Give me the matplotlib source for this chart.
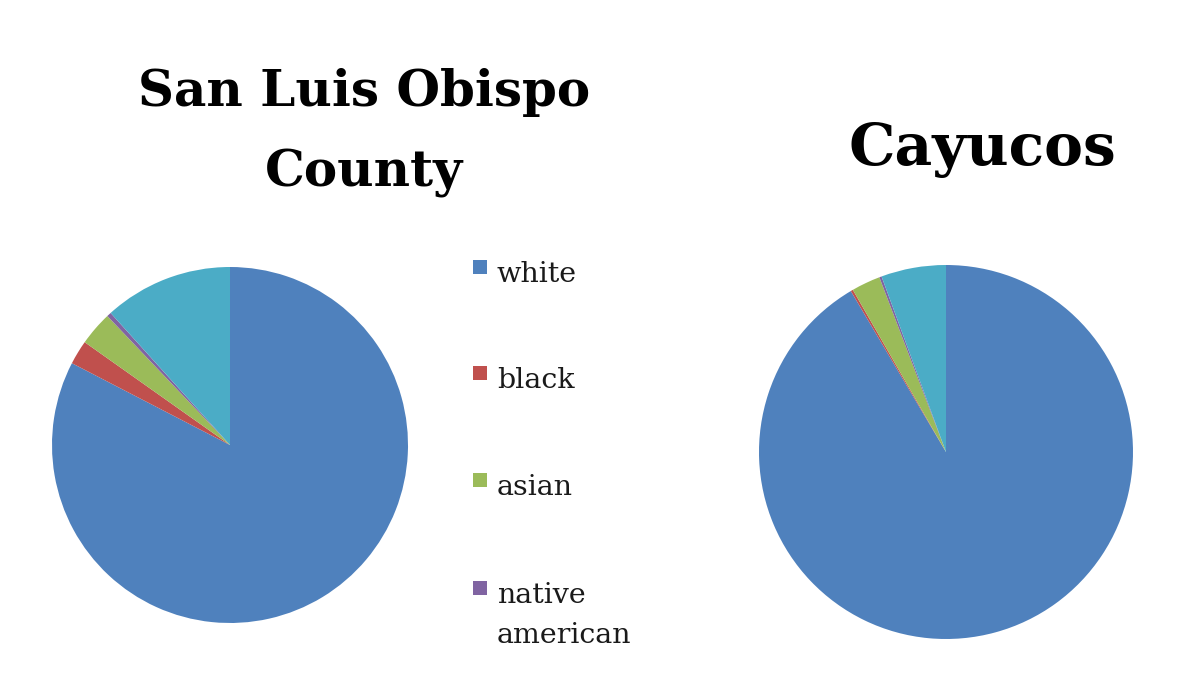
import matplotlib
matplotlib.use("Agg")
import matplotlib.pyplot as plt
from matplotlib.patches import Rectangle

# race share (%), clockwise from 12 o'clock; last slice is "other" (not in legend)
categories = ["white", "black", "asian", "native\namerican", "other"]
slo_county = [82.6, 2.2, 3.1, 0.4, 11.7]
cayucos = [91.5, 0.2, 2.5, 0.2, 5.6]
colors = ["#4F81BD", "#C0504D", "#9BBB59", "#8064A2", "#4BACC6"]

W, H = 1199, 689
fig = plt.figure(figsize=(W / 100, H / 100), dpi=100)
fig.patch.set_facecolor("white")


def px_axes(cx, cy, r):
    return fig.add_axes([(cx - r) / W, (H - cy - r) / H, 2 * r / W, 2 * r / H])


def draw_pie(ax, values):
    ax.pie(values, colors=colors, startangle=90, counterclock=False,
           wedgeprops=dict(linewidth=0))
    ax.set_xlim(-1, 1)
    ax.set_ylim(-1, 1)
    ax.set_aspect("equal")
    ax.axis("off")


draw_pie(px_axes(230, 445, 178), slo_county)
draw_pie(px_axes(946, 452, 187), cayucos)

title_font = dict(family="DejaVu Serif", fontweight="bold", ha="center", va="baseline")
fig.text(364 / W, 1 - 106 / H, "San Luis Obispo", fontsize=36, **title_font)
fig.text(364 / W, 1 - 186 / H, "County", fontsize=36, **title_font)
fig.text(982 / W, 1 - 165 / H, "Cayucos", fontsize=42, **title_font)

# legend drawn by hand so the two-line label keeps its marker on the first line
baselines = [282, 388, 495, 603]
line_gap = 40
for label, color, base in zip(categories[:4], colors[:4], baselines):
    fig.patches.append(Rectangle((473 / W, 1 - (base - 8) / H), 14 / W, 14 / H,
                                 transform=fig.transFigure, facecolor=color,
                                 edgecolor="none"))
    for i, line in enumerate(label.split("\n")):
        fig.text(497 / W, 1 - (base + i * line_gap) / H, line, fontsize=20.5,
                 family="DejaVu Serif", ha="left", va="baseline", color="#1a1a1a")

fig.savefig("out.png", dpi=100, facecolor="white")
